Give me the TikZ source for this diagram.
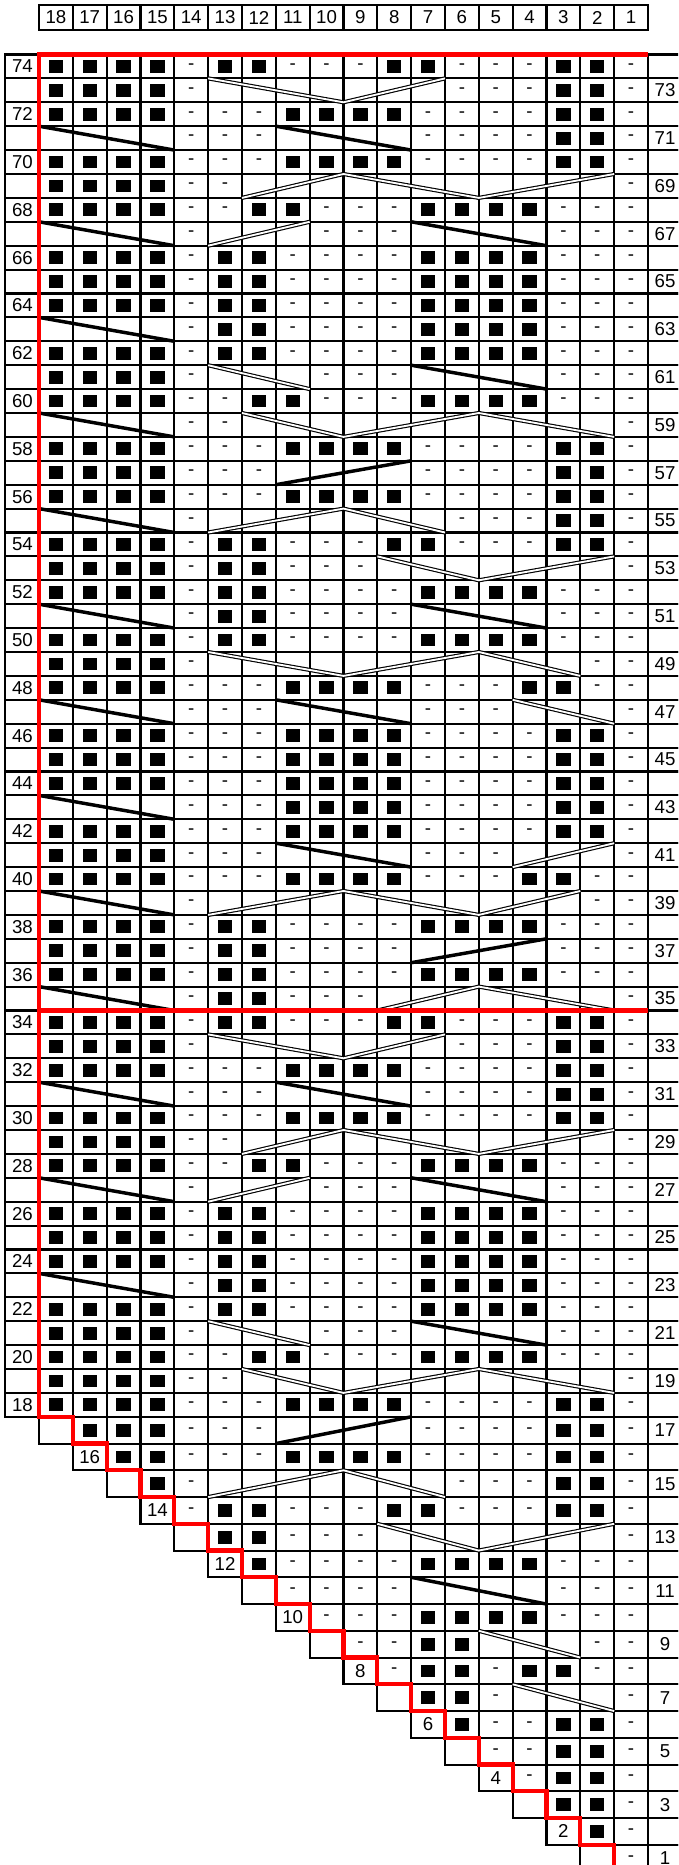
\documentclass[tikz,border=0pt]{standalone}
\usepackage{fontspec}
\setmainfont{Liberation Sans}

% gx = x of the g-th vertical grid line, ry = y of the top of row r
\tikzset{declare function={gx(\gi)=39+\gi*33.833;
    ry(\ri)=(\ri>17.5)*(54.5+(74-\ri)*23.9)+(\ri<17.5)*(1416.8+(17-\ri)*26.75);}}

% one chart row, symbols from column 18 to column 1 (x = no cell)
\newcommand{\chartrow}[2]{\def\rowno{#1}\def\colno{0}\expandafter\chartcells#2\relax}
\def\chartcells#1{\ifx#1\relax\else\chartcell#1\pgfmathtruncatemacro{\colno}{\colno+1}\expandafter\chartcells\fi}
\def\chartcell#1{%
  \if#1x\else
    \draw[cellline] ({gx(\colno)},{ry(\rowno)}) rectangle ({gx(\colno+1)},{ry(\rowno-1)});
    \if#1B\fill ({gx(\colno+0.5)-7.2},{(ry(\rowno)+ry(\rowno-1))/2-6.4}) rectangle ++(14.4,12.8);\fi
    \if#1D\node[numtext] at ({gx(\colno+0.5)},{(ry(\rowno)+ry(\rowno-1))/2}) {-};\fi
  \fi}

\begin{document}
\begin{tikzpicture}[x=0.75pt, y=-0.75pt]
    % Set up styles for the chart
    \tikzstyle{cellline} = [line width=1.6pt]
    \tikzstyle{numtext} = [font=\fontsize{14}{16}\selectfont, inner sep=0pt]
    \tikzstyle{thickcable} = [line width=2.6pt]
    \tikzstyle{doublecable} = [double=white, double distance=1.4pt, line width=0.85pt]
    \tikzstyle{redline} = [red, line width=3.2pt]

    \useasboundingbox (0,0) rectangle (678,1865);
    \fill[white] (0,0) rectangle (678,1865);
    \clip (0,0) rectangle (678,1865);

    % Column numbers
    \foreach \c [count=\g from 0] in {18,17,...,1} {
        \draw[cellline] ({gx(\g)},5) rectangle ({gx(\g+1)},30);
        \node[numtext] at ({gx(\g+0.5)},17.5) {\c};
    }

    % Row number cells
    \foreach \r in {18,...,74}
        \draw[cellline] (5,{ry(\r)}) rectangle ({gx(0)},{ry(\r-1)});
    \foreach \r in {1,...,17}
        \draw[cellline] ({gx(17-\r)},{ry(\r)}) rectangle ({gx(18-\r)},{ry(\r-1)});
    \foreach \r in {1,...,74}
        \draw[cellline] ({gx(18)},{ry(\r)}) rectangle (700,{ry(\r-1)});
    \foreach \r in {18,20,...,74}
        \node[numtext] at (22.5,{(ry(\r)+ry(\r-1))/2}) {\r};
    \foreach \r in {2,4,...,16}
        \node[numtext] at ({gx(17.5-\r)},{(ry(\r)+ry(\r-1))/2}) {\r};
    \foreach \r in {1,3,...,73}
        \node[numtext] at (665,{(ry(\r)+ry(\r-1))/2}) {\r};

    % The stitches
    \foreach \r/\s in {74/BBBBDBBDDDBBDDDBBD, 73/BBBBDEEEEEEEDDDBBD,
        72/BBBBDDDBBBBDDDDBBD, 71/EEEEDDDEEEEDDDDBBD, 70/BBBBDDDBBBBDDDDBBD,
        69/BBBBDDEEEEEEEEEEED, 68/BBBBDDBBDDDBBBBDDD, 67/EEEEDEEEDDDEEEEDDD,
        66/BBBBDBBDDDDBBBBDDD, 65/BBBBDBBDDDDBBBBDDD, 64/BBBBDBBDDDDBBBBDDD,
        63/EEEEDBBDDDDBBBBDDD, 62/BBBBDBBDDDDBBBBDDD, 61/BBBBDEEEDDDEEEEDDD,
        60/BBBBDDBBDDDBBBBDDD, 59/EEEEDDEEEEEEEEEEED, 58/BBBBDDDBBBBDDDDBBD,
        57/BBBBDDDEEEEDDDDBBD, 56/BBBBDDDBBBBDDDDBBD, 55/EEEEDEEEEEEEDDDBBD,
        54/BBBBDBBDDDBBDDDBBD, 53/BBBBDBBDDDEEEEEEED, 52/BBBBDBBDDDDBBBBDDD,
        51/EEEEDBBDDDDEEEEDDD, 50/BBBBDBBDDDDBBBBDDD, 49/BBBBDEEEEEEEEEEEDD,
        48/BBBBDDDBBBBDDDBBDD, 47/EEEEDDDEEEEDDDEEED, 46/BBBBDDDBBBBDDDDBBD,
        45/BBBBDDDBBBBDDDDBBD, 44/BBBBDDDBBBBDDDDBBD, 43/EEEEDDDBBBBDDDDBBD,
        42/BBBBDDDBBBBDDDDBBD, 41/BBBBDDDEEEEDDDEEED, 40/BBBBDDDBBBBDDDBBDD,
        39/EEEEDEEEEEEEEEEEDD, 38/BBBBDBBDDDDBBBBDDD, 37/BBBBDBBDDDDEEEEDDD,
        36/BBBBDBBDDDDBBBBDDD, 35/EEEEDBBDDDEEEEEEED, 34/BBBBDBBDDDBBDDDBBD,
        33/BBBBDEEEEEEEDDDBBD, 32/BBBBDDDBBBBDDDDBBD, 31/EEEEDDDEEEEDDDDBBD,
        30/BBBBDDDBBBBDDDDBBD, 29/BBBBDDEEEEEEEEEEED, 28/BBBBDDBBDDDBBBBDDD,
        27/EEEEDEEEDDDEEEEDDD, 26/BBBBDBBDDDDBBBBDDD, 25/BBBBDBBDDDDBBBBDDD,
        24/BBBBDBBDDDDBBBBDDD, 23/EEEEDBBDDDDBBBBDDD, 22/BBBBDBBDDDDBBBBDDD,
        21/BBBBDEEEDDDEEEEDDD, 20/BBBBDDBBDDDBBBBDDD, 19/BBBBDDEEEEEEEEEEED,
        18/BBBBDDDBBBBDDDDBBD, 17/xBBBDDDEEEEDDDDBBD, 16/xxBBDDDBBBBDDDDBBD,
        15/xxxBDEEEEEEEDDDBBD, 14/xxxxDBBDDDBBDDDBBD, 13/xxxxxBBDDDEEEEEEED,
        12/xxxxxxBDDDDBBBBDDD, 11/xxxxxxxDDDDEEEEDDD, 10/xxxxxxxxDDDBBBBDDD,
        9/xxxxxxxxxDDBBEEEDD, 8/xxxxxxxxxxDBBDBBDD, 7/xxxxxxxxxxxBBDEEED,
        6/xxxxxxxxxxxxBDDBBD, 5/xxxxxxxxxxxxxDDBBD, 4/xxxxxxxxxxxxxxDBBD,
        3/xxxxxxxxxxxxxxxBBD, 2/xxxxxxxxxxxxxxxxBD, 1/xxxxxxxxxxxxxxxxxD}
        {\chartrow{\r}{\s}}

    % Single cable crossings
    \foreach \r/\a/\p/\b/\q in {71/0/0/4/1, 67/0/0/4/1, 63/0/0/4/1, 59/0/0/4/1,
        55/0/0/4/1, 51/0/0/4/1, 47/0/0/4/1, 43/0/0/4/1, 39/0/0/4/1, 35/0/0/4/1,
        31/0/0/4/1, 27/0/0/4/1, 23/0/0/4/1,
        71/7/0/11/1, 67/11/0/15/1, 61/11/0/15/1, 57/7/1/11/0, 51/11/0/15/1,
        47/7/0/11/1, 41/7/0/11/1, 37/11/1/15/0, 31/7/0/11/1, 27/11/0/15/1,
        21/11/0/15/1, 17/7/1/11/0, 11/11/0/15/1}
        \draw[thickcable] ({gx(\a)},{ry(\r-\p)}) -- ({gx(\b)},{ry(\r-\q)});

    % Double cable lines
    \foreach \r/\a/\p/\rest in {73/5/0/{9/1,12/0}, 69/6/1/{9/0,13/1,17/0},
        67/5/1/{8/0}, 61/5/0/{8/1}, 59/6/0/{9/1,13/0,17/1}, 55/5/1/{9/0,12/1},
        53/10/0/{13/1,17/0}, 49/5/0/{9/1,13/0,16/1}, 47/14/0/{17/1},
        41/14/1/{17/0}, 39/5/1/{9/0,13/1,16/0}, 35/10/1/{13/0,17/1},
        33/5/0/{9/1,12/0}, 29/6/1/{9/0,13/1,17/0}, 27/5/1/{8/0}, 21/5/0/{8/1},
        19/6/0/{9/1,13/0,17/1}, 15/5/1/{9/0,12/1}, 13/10/0/{13/1,17/0},
        9/13/0/{16/1}, 7/14/0/{17/1}}
        \draw[doublecable] ({gx(\a)},{ry(\r-\p)})
            \foreach \b/\q in \rest { -- ({gx(\b)},{ry(\r-\q)}) };

    % Red outline
    \draw[redline] ({gx(18)},{ry(74)}) -- ({gx(0)},{ry(74)}) -- ({gx(0)},{ry(17)})
        \foreach \r in {17,16,...,1} { -- ({gx(18-\r)},{ry(\r)}) -- ({gx(18-\r)},{ry(\r-1)}) };
    \draw[redline] ({gx(0)},{ry(34)}) -- ({gx(18)},{ry(34)});

\end{tikzpicture}
\end{document}
